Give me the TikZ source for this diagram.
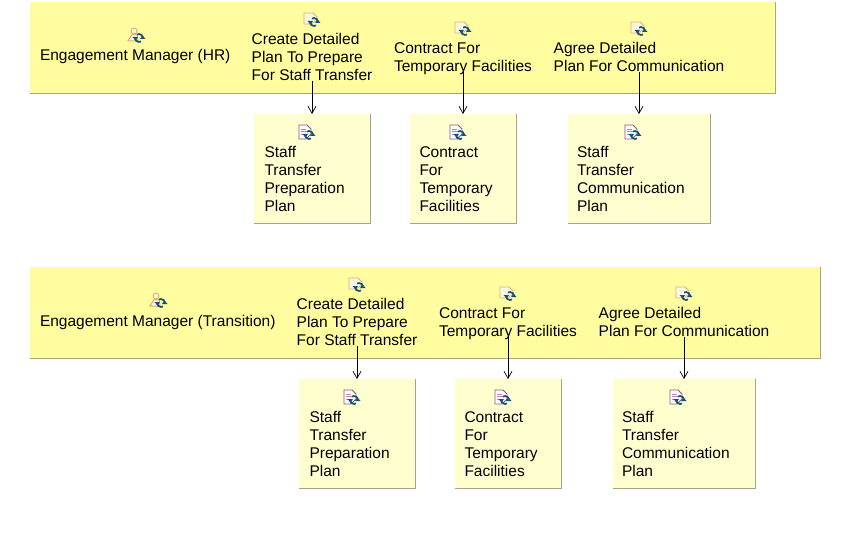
\documentclass[tikz,border=0pt]{standalone}
\usepackage{fontspec}
\setmainfont{Liberation Sans}
\definecolor{bandfill}{HTML}{FFFD9F}
\definecolor{boxfill}{HTML}{FFFECF}
\definecolor{edgeline}{HTML}{A8A488}
\definecolor{iconblue}{HTML}{17507F}
\definecolor{icontan}{HTML}{D8B070}
\definecolor{iconpaper}{HTML}{FFF6E0}
\tikzset{
  x=1pt,y=-1pt,
  band/.style={fill=bandfill,draw=none,inner sep=0pt,outer sep=0pt,anchor=north west},
  artbox/.style={fill=boxfill,draw=none,inner sep=0pt,outer sep=0pt,anchor=north west},
  edgelines/.style={draw=edgeline,line width=1pt},
  lbl/.style={inner sep=0pt,outer sep=0pt,align=left,font=\fontsize{15.5}{18}\selectfont,text depth=0pt},
  flow/.style={draw=black,line width=0.8pt,-{Straight Barb[length=7pt,width=8pt,line width=0.7pt]}},
  swirl/.pic={
    \draw[iconblue,line width=1.7pt] (-4,0) arc[start angle=180,end angle=60,radius=4];
    \draw[iconblue,line width=1.7pt] (4,0) arc[start angle=0,end angle=-120,radius=4];
    \fill[iconblue] (-6.5,-1) -- (-1,-1) -- (-3.5,2.5) -- cycle;
    \fill[iconblue] (6.5,1) -- (1,1) -- (3.5,-2.5) -- cycle;
  },
  procicon/.pic={
    \draw[icontan,fill=iconpaper,line width=0.8pt] (-7,-6) -- (2,-6) -- (6,-2) -- (6,1) -- (0,5) -- (-7,5) -- cycle;
    \pic at (3,3) {swirl};
  },
  docicon/.pic={
    \draw[gray!70!violet,fill=white,line width=0.8pt] (-7,-7) -- (1,-7) -- (5,-3) -- (5,2) -- (0,7) -- (-7,7) -- cycle;
    \draw[violet!50,line width=0.7pt] (-5,-3) -- (0,-3) (-5,-0.5) -- (1,-0.5) (-5,2) -- (-1,2);
    \pic at (3,3) {swirl};
  },
  actoricon/.pic={
    \draw[icontan,fill=iconpaper,line width=0.9pt] (-1,-4) circle[radius=3];
    \draw[icontan,fill=iconpaper,line width=1pt] (-7,6) -- (-3,-0.5) -- (2,-0.5) -- (3,6) -- cycle;
    \pic at (4,3) {swirl};
  },
}
\usetikzlibrary{arrows.meta}
\begin{document}
\begin{tikzpicture}
\useasboundingbox (0,0) rectangle (842,548);
% row 1
\node[band,minimum width=745pt,minimum height=91.5pt] (bandA) at (30,2) {};
\draw[edgelines] (bandA.north east) -- (bandA.south east) -- (bandA.south west);
\node[lbl,anchor=base west] (roleA) at (40,61) {Engagement Manager (HR)};
\pic at (135,35) {actoricon};
\node[lbl,anchor=north] (actA1) at (312,33.5) {Create Detailed\\Plan To Prepare\\For Staff Transfer};
\pic at (311,19) {procicon};
\node[lbl,anchor=north] (actA2) at (463,42.5) {Contract For\\Temporary Facilities};
\pic at (462,28) {procicon};
\node[lbl,anchor=north] (actA3) at (639,42.5) {Agree Detailed\\Plan For Communication};
\pic at (638,28) {procicon};
\node[artbox,minimum width=116pt,minimum height=109.5pt] (docA1) at (254,114) {};
\node[artbox,minimum width=106pt,minimum height=109.5pt] (docA2) at (410,114) {};
\node[artbox,minimum width=142pt,minimum height=109.5pt] (docA3) at (568,114) {};
\foreach \n in {docA1,docA2,docA3} \draw[edgelines] (\n.north east) -- (\n.south east) -- (\n.south west);
\pic at (306,132) {docicon};
\pic at (457,132) {docicon};
\pic at (632,132) {docicon};
\node[lbl,anchor=north west] (txtA1) at (264.5,146.5) {Staff\\Transfer\\Preparation\\Plan};
\node[lbl,anchor=north west] (txtA2) at (419.5,146.5) {Contract\\For\\Temporary\\Facilities};
\node[lbl,anchor=north west] (txtA3) at (577,146.5) {Staff\\Transfer\\Communication\\Plan};
\draw[flow] (actA1.south) -- (docA1.north);
\draw[flow] (actA2.south) -- (docA2.north);
\draw[flow] (actA3.south) -- (docA3.north);
% row 2
\node[band,minimum width=790pt,minimum height=91.5pt] (bandB) at (30,267) {};
\draw[edgelines] (bandB.north east) -- (bandB.south east) -- (bandB.south west);
\node[lbl,anchor=base west] (roleB) at (40,326) {Engagement Manager (Transition)};
\pic at (157,300) {actoricon};
\node[lbl,anchor=north] (actB1) at (357,298.5) {Create Detailed\\Plan To Prepare\\For Staff Transfer};
\pic at (356,284) {procicon};
\node[lbl,anchor=north] (actB2) at (508,307.5) {Contract For\\Temporary Facilities};
\pic at (507,293) {procicon};
\node[lbl,anchor=north] (actB3) at (684,307.5) {Agree Detailed\\Plan For Communication};
\pic at (683,293) {procicon};
\node[artbox,minimum width=116pt,minimum height=109.5pt] (docB1) at (299,379) {};
\node[artbox,minimum width=106pt,minimum height=109.5pt] (docB2) at (455,379) {};
\node[artbox,minimum width=142pt,minimum height=109.5pt] (docB3) at (613,379) {};
\foreach \n in {docB1,docB2,docB3} \draw[edgelines] (\n.north east) -- (\n.south east) -- (\n.south west);
\pic at (351,397) {docicon};
\pic at (502,397) {docicon};
\pic at (677,397) {docicon};
\node[lbl,anchor=north west] (txtB1) at (309.5,411.5) {Staff\\Transfer\\Preparation\\Plan};
\node[lbl,anchor=north west] (txtB2) at (464.5,411.5) {Contract\\For\\Temporary\\Facilities};
\node[lbl,anchor=north west] (txtB3) at (622,411.5) {Staff\\Transfer\\Communication\\Plan};
\draw[flow] (actB1.south) -- (docB1.north);
\draw[flow] (actB2.south) -- (docB2.north);
\draw[flow] (actB3.south) -- (docB3.north);
\end{tikzpicture}
\end{document}
